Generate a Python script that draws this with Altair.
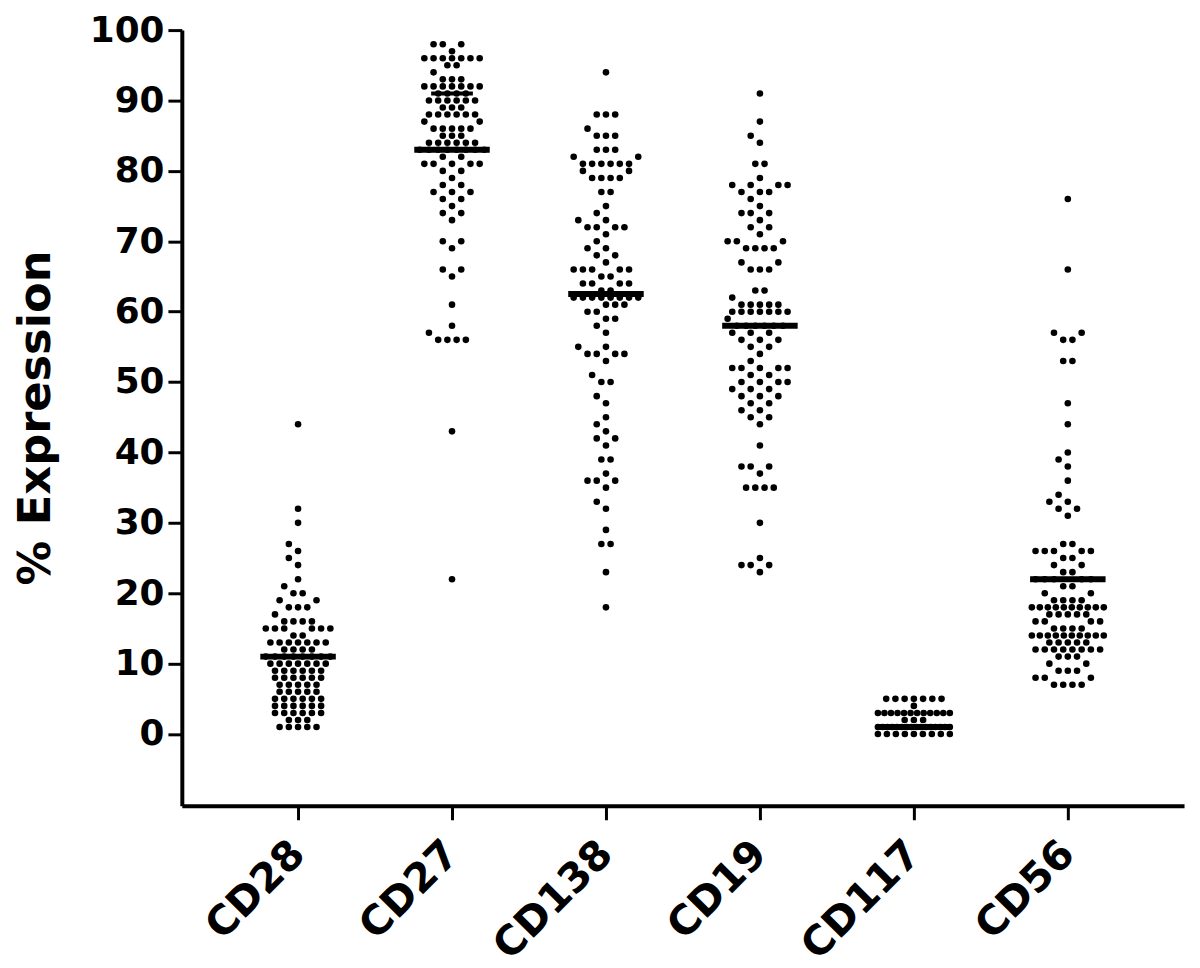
import altair as alt
import pandas as pd

categories = ["CD28", "CD27", "CD138", "CD19", "CD117", "CD56"]

# value levels (% expression) and number of samples at each level, per marker
cd28_levels = [1, 2, 3, 4, 5, 6, 7, 8, 9, 10, 11, 12, 13, 14, 15, 16, 17, 18, 19, 20, 21, 22, 24, 25, 26, 27, 30, 32, 44]
cd28_counts = [5, 3, 6, 6, 6, 5, 5, 6, 6, 7, 8, 4, 7, 2, 6, 4, 1, 3, 2, 2, 1, 1, 1, 1, 1, 1, 1, 1, 1]

cd27_levels = [22, 43, 56, 57, 58, 61, 65, 66, 69, 70, 73, 74, 75, 76, 77, 78, 79, 80, 81, 82, 83, 84, 85, 86, 87, 88, 89, 90, 91, 92, 93, 94, 95, 96, 97, 98]
cd27_counts = [1, 1, 4, 1, 1, 1, 1, 2, 1, 2, 1, 2, 1, 2, 3, 2, 1, 2, 5, 2, 8, 6, 3, 5, 2, 6, 3, 6, 4, 7, 3, 1, 2, 7, 1, 3]

cd138_levels = [18, 23, 27, 29, 32, 33, 35, 36, 37, 39, 41, 42, 43, 44, 45, 47, 48, 50, 51, 53, 54, 55, 57, 58, 59, 60, 61, 62, 63, 64, 65, 66, 67, 68, 69, 70, 71, 72, 73, 74, 75, 77, 79, 80, 81, 82, 83, 85, 86, 88, 94]
cd138_counts = [1, 1, 2, 1, 1, 1, 1, 3, 1, 2, 1, 2, 1, 1, 1, 1, 1, 2, 1, 1, 4, 2, 1, 1, 2, 2, 3, 8, 2, 4, 2, 5, 1, 2, 2, 1, 1, 4, 2, 1, 1, 2, 4, 2, 6, 2, 3, 3, 1, 3, 1]

cd19_levels = [23, 24, 25, 30, 35, 37, 38, 41, 44, 45, 46, 47, 48, 49, 50, 51, 52, 53, 54, 55, 56, 57, 58, 59, 60, 61, 62, 63, 66, 67, 69, 70, 71, 72, 73, 74, 75, 76, 77, 78, 79, 81, 84, 85, 87, 91]
cd19_counts = [1, 3, 1, 1, 4, 1, 3, 1, 1, 2, 2, 2, 3, 3, 4, 2, 5, 1, 1, 2, 3, 3, 6, 1, 7, 5, 1, 2, 3, 2, 4, 3, 1, 2, 1, 3, 1, 1, 3, 4, 1, 2, 1, 1, 1, 1]

cd117_levels = [0, 1, 2, 3, 4, 5]
cd117_counts = [9, 16, 3, 12, 1, 7]

cd56_levels = [7, 8, 9, 10, 11, 12, 13, 14, 15, 16, 17, 18, 19, 20, 21, 22, 23, 24, 25, 26, 27, 31, 32, 33, 34, 36, 38, 39, 40, 44, 47, 53, 56, 57, 66, 76]
cd56_counts = [4, 3, 3, 2, 3, 8, 5, 10, 4, 4, 5, 10, 4, 2, 2, 5, 2, 2, 2, 5, 2, 1, 2, 2, 1, 1, 1, 1, 1, 1, 1, 2, 2, 2, 1, 1]

# horizontal line levels
center_line_values = [11, 83, 62.5, 58, 1, 22]
short_line_groups = ["CD27"]
short_line_values = [91]

groups = {
    "CD28": (cd28_levels, cd28_counts),
    "CD27": (cd27_levels, cd27_counts),
    "CD138": (cd138_levels, cd138_counts),
    "CD19": (cd19_levels, cd19_counts),
    "CD117": (cd117_levels, cd117_counts),
    "CD56": (cd56_levels, cd56_counts),
}


def swarm(levels, counts, cap=3.9):
    """Lay dots of equal value side by side (in dot-width units), avoiding the row below."""
    placed = {}
    out = []
    grid = [0.0]
    k = 1
    while k * 0.5 <= cap:
        grid += [-k * 0.5, k * 0.5]
        k += 1
    for v, n in sorted(zip(levels, counts)):
        blockers = placed.get(v - 1, [])

        def free(x, same):
            return all(abs(x - b) >= 0.95 for b in blockers) and all(abs(x - s) >= 0.95 for s in same)

        cen = [i - (n - 1) / 2 for i in range(n)]
        if max(abs(c) for c in cen) <= cap and all(free(c, []) for c in cen):
            xs = cen
        else:
            xs = []
            for g in grid:
                if len(xs) == n:
                    break
                if free(g, xs):
                    xs.append(g)
            if len(xs) < n:
                sp = min(1.0, 2 * cap / (n - 1)) if n > 1 else 1.0
                xs = [(i - (n - 1) / 2) * sp for i in range(n)]
        placed[v] = xs
        out += [(v, x) for x in xs]
    return out


DOT_UNIT = 9.3 / 155.2  # one dot spacing in category-index units

rows = []
for gi, name in enumerate(categories):
    lv, ct = groups[name]
    for v, off in swarm(lv, ct):
        rows.append({"marker": name, "pos": gi + off * DOT_UNIT, "value": v})
dots = pd.DataFrame(rows)

lines = pd.DataFrame({"marker": categories, "pos": list(range(len(categories))), "value": center_line_values})
short = pd.DataFrame({
    "marker": short_line_groups,
    "pos": [categories.index(g) for g in short_line_groups],
    "value": short_line_values,
})

label_expr = "[" + ",".join("'" + c + "'" for c in categories) + "][datum.value]"

x_enc = alt.X(
    "pos:Q",
    scale=alt.Scale(domain=[-0.755, 5.755], nice=False, zero=False),
    axis=alt.Axis(
        title=None,
        values=list(range(len(categories))),
        labelExpr=label_expr,
        labelAngle=-45,
        labelAlign="right",
        labelBaseline="middle",
        labelPadding=28,
        labelFontSize=41,
        tickSize=14,
        tickWidth=3,
        domainWidth=4,
        grid=False,
    ),
)
y_enc = alt.Y(
    "value:Q",
    scale=alt.Scale(domain=[-10.2, 100], nice=False, zero=False),
    axis=alt.Axis(
        title="% Expression",
        values=list(range(0, 101, 10)),
        labelFontSize=36,
        labelPadding=4,
        tickSize=14,
        tickWidth=3,
        domainWidth=4,
        grid=False,
        titleFontSize=45,
        titleAngle=270,
        titleX=-133,
        titleY=390,
        titleAlign="center",
        titleBaseline="alphabetic",
    ),
)

points = alt.Chart(dots).mark_circle(size=44, color="black", opacity=1).encode(x=x_enc, y=y_enc)
medians = alt.Chart(lines).mark_tick(orient="horizontal", size=76, thickness=6, color="black", opacity=1).encode(
    x="pos:Q", y="value:Q"
)
shorts = alt.Chart(short).mark_tick(orient="horizontal", size=42, thickness=4, color="black", opacity=1).encode(
    x="pos:Q", y="value:Q"
)

chart = (
    alt.layer(points, medians, shorts)
    .properties(
        width=1009,
        height=781,
        autosize=alt.AutoSizeParams(type="none"),
        padding={"left": 175, "top": 19, "right": 8, "bottom": 160},
        background="white",
    )
    .configure_view(strokeWidth=0)
    .configure_axis(
        labelFont="DejaVu Sans",
        labelFontWeight="bold",
        labelColor="black",
        titleFont="DejaVu Sans",
        titleFontWeight="bold",
        titleColor="black",
        domainColor="black",
        tickColor="black",
    )
)

chart.save("out.html", embed_options={"renderer": "svg", "actions": False})
